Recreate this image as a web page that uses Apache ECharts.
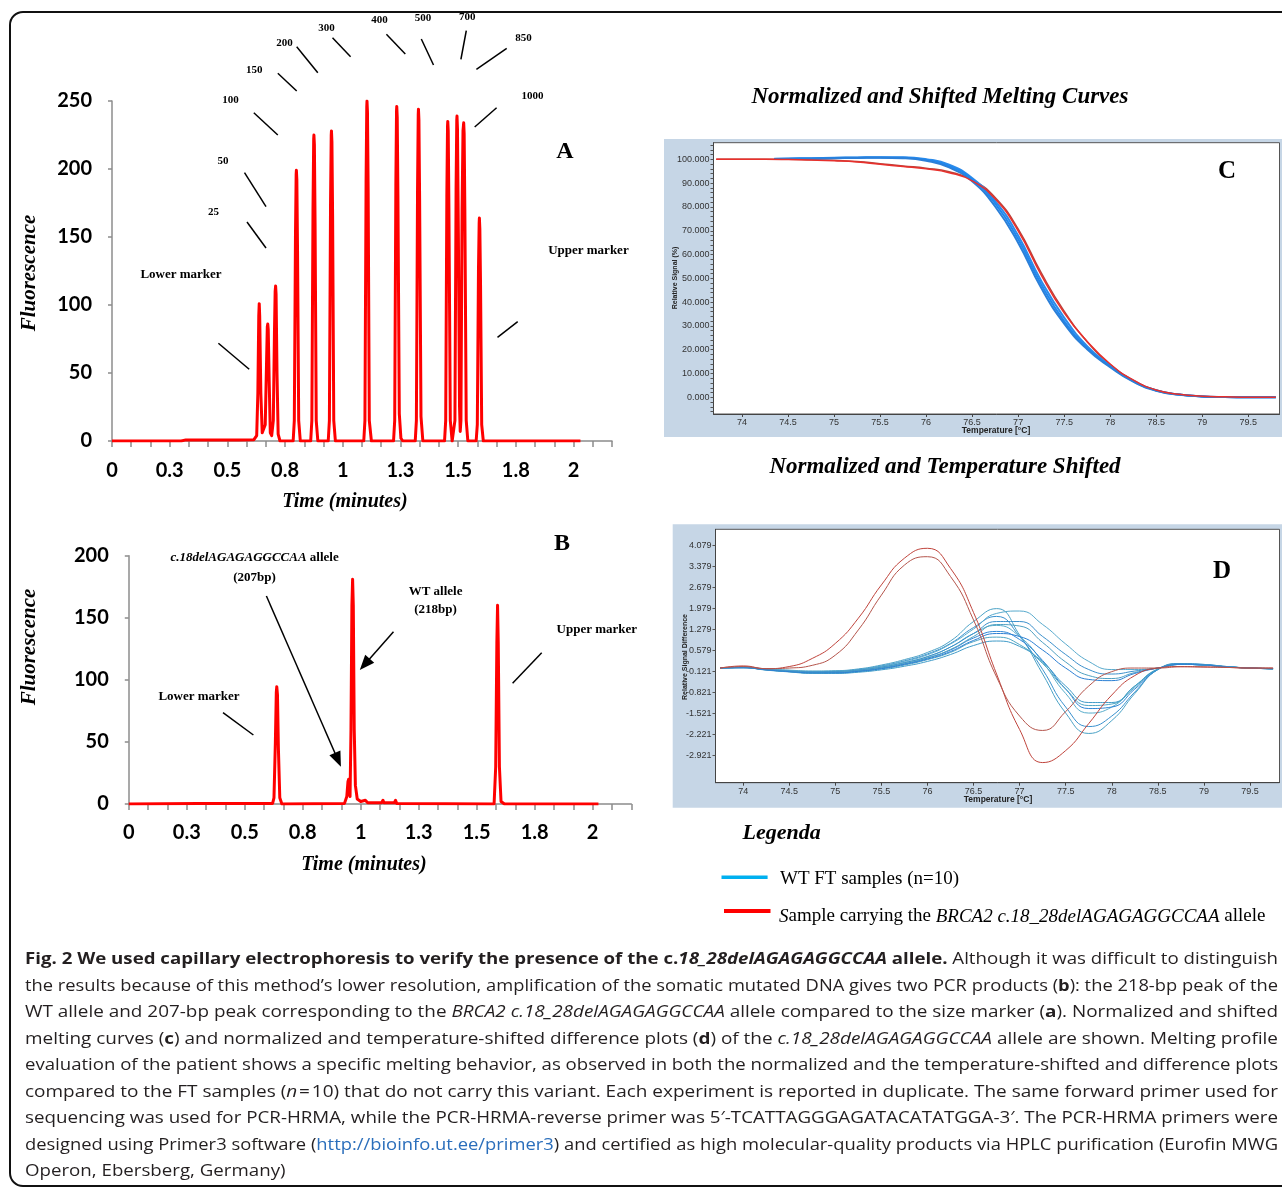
<!DOCTYPE html>
<html><head><meta charset="utf-8">
<script src="https://cdn.jsdelivr.net/npm/echarts@6/dist/echarts.min.js"></script>
<style>
html,body{margin:0;padding:0;background:#fff;width:1282px;height:1187px;overflow:hidden;}
#chart{position:absolute;left:0;top:0;width:1282px;height:1187px;}
#frame{position:absolute;left:9px;top:11px;width:1300px;height:1172px;border:2px solid #111;border-radius:14px;pointer-events:none;}
#caption{position:absolute;left:25px;top:945px;width:1253px;font-family:'Open Sans',sans-serif;font-size:16.5px;color:#231f20;}
.ln{white-space:nowrap;height:26.5px;line-height:26.5px;transform-origin:0 50%;width:max-content;}
.ln a{color:#2a6ebb;text-decoration:none;}
</style></head>
<body>
<div id="chart"></div>
<div id="frame"></div>
<div id="caption"></div>
<script>
// ---------------- DATA ----------------
const timeTickValues = [0,0.25,0.5,0.75,1,1.25,1.5,1.75,2];
const timeTickLabels = ['0','0.3','0.5','0.8','1','1.3','1.5','1.8','2'];
const fluorTicksA = [0,50,100,150,200,250];
const fluorTicksB = [0,50,100,150,200];
const tempTickValues = [74,74.5,75,75.5,76,76.5,77,77.5,78,78.5,79,79.5];
const tempTickLabels = ['74','74.5','75','75.5','76','76.5','77','77.5','78','78.5','79','79.5'];
const signalTickValues = [0,10,20,30,40,50,60,70,80,90,100];
const signalTickLabels = ['0.000','10.000','20.000','30.000','40.000','50.000','60.000','70.000','80.000','90.000','100.000'];
const diffTickValues = [-2.921,-2.221,-1.521,-0.821,-0.121,0.579,1.279,1.979,2.679,3.379,4.079];
const diffTickLabels = ['-2.921','-2.221','-1.521','-0.821','-0.121','0.579','1.279','1.979','2.679','3.379','4.079'];

// Panel A: size ladder electropherogram [time, fluorescence]
const traceA = [
[0,0],[0.30,0],[0.32,0.8],[0.55,0.8],[0.615,1],
[0.627,4],[0.632,35],[0.636,92],[0.638,101],[0.640,92],[0.645,35],[0.651,6],
[0.657,5],[0.664,12],[0.670,60],[0.673,84],[0.675,86],[0.677,82],[0.681,45],[0.686,6],
[0.692,4],[0.699,15],[0.704,80],[0.707,110],[0.709,114],[0.711,108],[0.715,50],[0.720,5],[0.728,0],
[0.785,0],[0.790,15],[0.795,150],[0.798,196],[0.799,199],[0.801,192],[0.804,140],[0.809,15],[0.816,0],
[0.861,0],[0.866,15],[0.871,170],[0.874,222],[0.875,225],[0.877,218],[0.880,160],[0.885,15],[0.892,0],
[0.937,0],[0.942,15],[0.947,175],[0.950,225],[0.951,228],[0.953,220],[0.956,165],[0.961,15],[0.968,0],
[1.091,0],[1.096,15],[1.101,190],[1.104,246],[1.105,250],[1.107,242],[1.110,185],[1.115,15],[1.124,0],
[1.220,0],[1.225,15],[1.230,188],[1.233,243],[1.234,246],[1.236,238],[1.239,180],[1.245,20],[1.252,2],[1.260,0],
[1.314,0],[1.319,15],[1.324,185],[1.327,240],[1.328,244],[1.330,236],[1.333,178],[1.339,18],[1.347,0],
[1.441,0],[1.446,15],[1.451,180],[1.454,232],[1.455,235],[1.457,228],[1.460,170],[1.466,15],[1.474,0],
[1.481,0],[1.486,15],[1.491,185],[1.494,236],[1.495,239],[1.497,230],[1.501,150],[1.506,25],[1.509,7],[1.512,15],[1.517,170],[1.521,228],[1.524,234],[1.526,226],[1.529,170],[1.535,15],[1.542,0],
[1.578,0],[1.583,12],[1.588,125],[1.591,160],[1.592,164],[1.594,156],[1.597,115],[1.602,12],[1.609,0],
[2.03,0]
];

// Panel B: patient sample electropherogram [time, fluorescence]
const traceB = [
[0,0],[0.30,0.5],[0.62,0.5],[0.626,5],[0.632,50],[0.636,90],[0.638,94.5],[0.641,88],[0.645,45],[0.651,5],[0.660,0],
[0.930,0.5],[0.940,6],[0.945,18],[0.948,20],[0.951,10],[0.954,6],[0.958,60],[0.962,160],[0.965,181],[0.968,160],[0.972,60],[0.977,15],[0.985,4],
[1.000,2],[1.020,3],[1.030,1],[1.090,1],[1.096,3],[1.100,1],[1.145,1],[1.150,3],[1.155,0.5],
[1.575,0],[1.582,30],[1.587,130],[1.590,160],[1.593,130],[1.598,30],[1.605,2],[1.620,0],[2.025,0]
];

// Panel C: normalized melting curves (relative signal %)
const tempRedC = [73.72,74,74.25,74.5,74.75,75,75.25,75.5,75.75,76,76.25,76.5,76.75,77,77.25,77.5,77.75,78,78.25,78.5,78.75,79,79.25,79.5,79.8];
const redC1 = [100,100,100,99.9,99.7,99.4,98.9,97.9,97.0,96.0,94.4,91.0,83.4,70.0,51.5,35.5,23.5,14.0,7.3,3.1,1.3,0.5,0.2,0.0,0.0];
const redC2 = [100,100,100,100,99.8,99.6,99.1,98.2,97.2,96.3,94.8,91.4,84.0,70.8,52.4,36.2,23.4,13.8,7.1,3.0,1.2,0.4,0.1,0.0,0.0];
const tempBlueC = [74.35,74.5,74.75,75,75.25,75.5,75.75,76,76.25,76.5,76.75,77,77.25,77.5,77.75,78,78.25,78.5,78.75,79,79.25,79.5,79.8];
const blueC1 = [100.2,100.3,100.4,100.6,100.7,100.8,100.7,99.8,97.2,91.6,81.5,66.5,47.5,32.0,20.8,13.0,6.8,2.9,1.2,0.4,0.1,0.0,0.0];
const blueC2 = [100.2,100.2,100.3,100.5,100.6,100.7,100.5,99.4,96.6,90.8,80.2,65.0,46.0,31.0,20.2,12.7,6.6,2.8,1.1,0.4,0.1,0.0,0.0];
const blueC3 = [100.3,100.4,100.5,100.7,100.8,100.9,100.9,100.1,97.8,92.2,82.6,68.0,49.0,33.5,21.5,13.4,7.0,3.0,1.2,0.4,0.1,0.0,0.0];

// Panel D: temperature-shifted difference plot
const tempD = [73.75,74,74.25,74.5,74.75,75,75.25,75.5,75.75,76,76.25,76.5,76.75,77,77.25,77.5,77.75,78,78.25,78.5,78.75,79,79.25,79.5,79.75];
const redD1 = [0,0.07,-0.02,0.05,0.32,0.82,1.66,2.77,3.66,3.99,3.32,1.85,-0.2,-2.05,-3.15,-2.75,-1.85,-0.9,-0.25,0.0,0.05,0.04,0.02,0.0,0.0];
const redD2 = [0,0.05,-0.02,0.0,0.09,0.43,1.27,2.43,3.43,3.71,3.05,1.6,-0.3,-1.6,-2.08,-1.45,-0.6,-0.12,0.0,0.0,0.04,0.03,0.02,0.0,0.0];
const blueD1 = [0,0.03,-0.03,-0.07,-0.1,-0.09,-0.03,0.1,0.28,0.52,0.9,1.55,1.98,1.1,-0.2,-1.5,-2.18,-1.75,-0.85,-0.05,0.15,0.12,0.05,0.0,-0.02];
const blueD2 = [0,0.02,-0.04,-0.09,-0.12,-0.11,-0.05,0.07,0.24,0.47,0.82,1.35,1.72,1.05,-0.05,-1.3,-1.95,-1.6,-0.8,-0.05,0.14,0.12,0.05,0.0,-0.03];
const blueD3 = [0,0.02,-0.05,-0.1,-0.14,-0.13,-0.08,0.03,0.18,0.38,0.7,1.15,1.42,1.05,0.2,-0.85,-1.5,-1.3,-0.65,-0.04,0.12,0.1,0.04,0.0,-0.02];
const blueD4 = [0,0.01,-0.06,-0.12,-0.16,-0.15,-0.1,0.0,0.14,0.33,0.6,1.0,1.22,0.95,0.25,-0.7,-1.35,-1.3,-0.7,-0.05,0.13,0.11,0.04,0.0,-0.03];
const blueD5 = [0,0.01,-0.07,-0.13,-0.18,-0.17,-0.12,-0.03,0.1,0.28,0.52,0.88,1.03,0.78,0.15,-0.7,-1.25,-1.2,-0.6,-0.03,0.12,0.1,0.04,0.0,-0.03];
const blueD6 = [0,0.02,-0.06,-0.12,-0.17,-0.18,-0.14,-0.06,0.06,0.22,0.45,0.75,0.9,0.72,0.2,-0.6,-1.15,-1.15,-0.6,-0.04,0.12,0.1,0.04,0.0,-0.02];
const blueD7 = [0,0.02,-0.04,-0.08,-0.11,-0.1,-0.05,0.06,0.22,0.44,0.8,1.3,1.82,1.9,1.45,0.8,0.22,-0.05,-0.05,0.0,0.12,0.1,0.04,0.0,-0.02];
const blueD8 = [0,0.02,-0.05,-0.1,-0.13,-0.12,-0.07,0.03,0.18,0.38,0.7,1.15,1.55,1.55,1.05,0.45,-0.05,-0.2,-0.1,0.0,0.12,0.1,0.04,0.0,-0.02];
const blueD9 = [0,0.01,-0.05,-0.11,-0.15,-0.14,-0.09,0.01,0.15,0.34,0.62,1.05,1.45,1.4,0.85,0.2,-0.25,-0.35,-0.15,0.0,0.12,0.1,0.04,0.0,-0.03];
const blueD10 = [0,0.01,-0.06,-0.12,-0.16,-0.16,-0.11,-0.02,0.12,0.3,0.55,0.92,1.15,1.05,0.6,0.0,-0.38,-0.42,-0.18,0.0,0.12,0.1,0.04,0.0,-0.02];

const peakLabelsA = ['25','50','100','150','200','300','400','500','700','850','1000'];

const captionLines = [
 '<b>Fig. 2 We used capillary electrophoresis to verify the presence of the c.<i>18_28delAGAGAGGCCAA</i> allele.</b> Although it was difficult to distinguish',
 'the results because of this method’s lower resolution, amplification of the somatic mutated DNA gives two PCR products (<b>b</b>): the 218-bp peak of the',
 'WT allele and 207-bp peak corresponding to the <i>BRCA2 c.18_28delAGAGAGGCCAA</i> allele compared to the size marker (<b>a</b>). Normalized and shifted',
 'melting curves (<b>c</b>) and normalized and temperature-shifted difference plots (<b>d</b>) of the <i>c.18_28delAGAGAGGCCAA</i> allele are shown. Melting profile',
 'evaluation of the patient shows a specific melting behavior, as observed in both the normalized and the temperature-shifted and difference plots',
 'compared to the FT samples (<i>n</i>&#8202;=&#8202;10) that do not carry this variant. Each experiment is reported in duplicate. The same forward primer used for',
 'sequencing was used for PCR-HRMA, while the PCR-HRMA-reverse primer was 5′-TCATTAGGGAGATACATATGGA-3′. The PCR-HRMA primers were',
 'designed using Primer3 software (<a>http://bioinfo.ut.ee/primer3</a>) and certified as high molecular-quality products via HPLC purification (Eurofin MWG',
 'Operon, Ebersberg, Germany)'
];

// ---------------- BUILD ----------------
const zip = (xs, ys) => xs.map((x, i) => [x, ys[i]]);
const minorTimeTicks = Array.from({length: 27}, (_, i) => i / 12);
const signalMinorTicks = Array.from({length: 57}, (_, i) => -6 + i * 2);

const SERIF = '"Liberation Serif","Times New Roman",serif';
const SANS = '"Liberation Sans",Arial,sans-serif';
const NUMF = 'Lato,"Open Sans",sans-serif';

function txt(x, y, text, o) {
  o = o || {};
  return {type: 'text', x: x, y: y, rotation: o.rotation || 0, z: 20,
    style: {text: text, fill: o.color || '#000', fontSize: o.size || 12, fontWeight: o.weight || 'bold',
      fontStyle: o.style || 'normal', fontFamily: o.family || SERIF,
      align: o.align || 'center', textAlign: o.align || 'center',
      verticalAlign: 'middle', textVerticalAlign: 'middle', rich: o.rich}};
}
function seg(x1, y1, x2, y2, w, c) {
  return {type: 'line', z: 20, shape: {x1, y1, x2, y2}, style: {stroke: c || '#000', lineWidth: w || 1.5}};
}
function arrow(x1, y1, x2, y2) {
  const dx = x2 - x1, dy = y2 - y1, L = Math.hypot(dx, dy), ux = dx / L, uy = dy / L;
  const hl = 15, hw = 6;
  const bx = x2 - ux * hl, by = y2 - uy * hl;
  return [
    seg(x1, y1, bx + ux * 2, by + uy * 2, 1.5),
    {type: 'polygon', z: 20, shape: {points: [[x2, y2], [bx - uy * hw, by + ux * hw], [bx + uy * hw, by - ux * hw]]}, style: {fill: '#000'}}
  ];
}

const grayAxis = {show: true, onZero: false, lineStyle: {color: '#8c8c8c', width: 1.5}};
const bigNum = {fontSize: 20, fontWeight: 'bold', fontFamily: NUMF, color: '#000'};

const timeAxis = (gi, margin) => ({
  type: 'value', gridIndex: gi, min: 0, max: 26 / 12,
  axisLine: grayAxis,
  axisTick: {show: true, length: 6, customValues: minorTimeTicks, lineStyle: {color: '#8c8c8c', width: 1.5}},
  axisLabel: Object.assign({customValues: timeTickValues, margin: margin,
    formatter: v => timeTickLabels[Math.round(v * 4)]}, bigNum),
  splitLine: {show: false}
});
const fluorAxis = (gi, max, ticks) => ({
  type: 'value', gridIndex: gi, min: 0, max: max,
  axisLine: grayAxis,
  axisTick: {show: true, length: 4, customValues: ticks, lineStyle: {color: '#8c8c8c', width: 1.5}},
  axisLabel: Object.assign({customValues: ticks, margin: 20}, bigNum),
  splitLine: {show: false}
});
const smallLab = {fontSize: 9, fontFamily: SANS, color: '#333'};
const tempAxis = (gi, min, max) => ({
  type: 'value', gridIndex: gi, min: min, max: max,
  axisLine: {show: true, onZero: false, lineStyle: {color: '#444', width: 1}},
  axisTick: {show: true, length: 3, customValues: tempTickValues, lineStyle: {color: '#444'}},
  axisLabel: Object.assign({customValues: tempTickValues, margin: 4,
    formatter: v => tempTickLabels[Math.round((v - 74) * 2)]}, smallLab),
  splitLine: {show: false}
});

const lineS = (xi, data, color, width, smooth, name) => ({
  type: 'line', name: name, xAxisIndex: xi, yAxisIndex: xi, data: data, showSymbol: false, symbol: 'none',
  smooth: smooth, animation: false, silent: true,
  lineStyle: {color: color, width: width, join: 'round'}
});

const blueDs = [blueD1, blueD2, blueD3, blueD4, blueD5, blueD6, blueD7, blueD8, blueD9, blueD10];
const blueDColors = ['#4aa2c6', '#3a92cf', '#5aaecc', '#2f86d6', '#4fa6c4', '#3f9bc8', '#58aacd', '#3b90cc', '#4ea0c2', '#2c80d4'];

const series = [
  lineS(0, traceA, '#ff0000', 3, false, 'A'),
  lineS(1, traceB, '#ff0000', 3, false, 'B'),
  lineS(2, zip(tempRedC, redC2), '#b8453d', 1.5, true, 'redC2'),
  lineS(2, zip(tempBlueC, blueC3), '#2f8be8', 2, true, 'blueC3'),
  lineS(2, zip(tempBlueC, blueC1), '#1e88f0', 2, true, 'blueC1'),
  lineS(2, zip(tempBlueC, blueC2), '#2b7fd8', 2, true, 'blueC2'),
  lineS(2, zip(tempRedC, redC1), '#e8302c', 1.5, true, 'redC1')
];
blueDs.forEach((b, i) => series.push(lineS(3, zip(tempD, b), blueDColors[i], 1, true, 'blueD' + (i + 1))));
series.push(lineS(3, zip(tempD, redD1), '#c0443c', 1, true, 'redD1'));
series.push(lineS(3, zip(tempD, redD2), '#b5554c', 1, true, 'redD2'));

const graphics = [
  // panel C / D backgrounds
  {type: 'rect', z: 0, shape: {x: 664, y: 139, width: 620, height: 298}, style: {fill: '#c6d6e6'}},
  {type: 'rect', z: 0, shape: {x: 713.5, y: 142.7, width: 566, height: 271.3}, style: {fill: '#fff', stroke: '#555', lineWidth: 1}},
  {type: 'rect', z: 0, shape: {x: 672.7, y: 524.3, width: 612, height: 283.4}, style: {fill: '#c6d6e6'}},
  {type: 'rect', z: 0, shape: {x: 715.5, y: 529.3, width: 564, height: 253.4}, style: {fill: '#fff', stroke: '#555', lineWidth: 1}},

  // panel A texts
  txt(565, 152, 'A', {size: 24}),
  txt(30, 273, 'Fluorescence', {size: 21, style: 'italic', rotation: Math.PI / 2}),
  txt(345, 502, 'Time (minutes)', {size: 20, style: 'italic'}),
  txt(213.4, 212.3, peakLabelsA[0], {size: 11}),
  txt(223, 161.3, peakLabelsA[1], {size: 11}),
  txt(230.6, 100, peakLabelsA[2], {size: 11}),
  txt(254.2, 70, peakLabelsA[3], {size: 11}),
  txt(284.5, 43.3, peakLabelsA[4], {size: 11}),
  txt(326.6, 28.3, peakLabelsA[5], {size: 11}),
  txt(379.6, 20, peakLabelsA[6], {size: 11}),
  txt(423, 18.3, peakLabelsA[7], {size: 11}),
  txt(467.2, 17.3, peakLabelsA[8], {size: 11}),
  txt(523.6, 38.3, peakLabelsA[9], {size: 11}),
  txt(532.4, 96.3, peakLabelsA[10], {size: 11}),
  txt(181, 274.3, 'Lower marker', {size: 13}),
  txt(588.4, 250.7, 'Upper marker', {size: 13}),
  seg(247, 222, 266, 248), seg(244.5, 172.7, 266, 206.7), seg(253.8, 112.7, 277.8, 135),
  seg(277.8, 73.3, 296.7, 91), seg(296.7, 46.7, 317.8, 72.7), seg(332.5, 37.7, 350.6, 56.7),
  seg(386.4, 34.3, 405.3, 54), seg(421.3, 39, 433.5, 65), seg(466.3, 30.7, 460.9, 59.3),
  seg(506.7, 48.3, 476.4, 69.3), seg(496.6, 107.7, 474.7, 127),
  seg(218.4, 343.3, 249.2, 369.3), seg(517.7, 321.7, 497.5, 337.3),

  // panel B texts
  txt(562, 544, 'B', {size: 24}),
  txt(30, 647, 'Fluorescence', {size: 21, style: 'italic', rotation: Math.PI / 2}),
  txt(364, 865, 'Time (minutes)', {size: 20, style: 'italic'}),
  txt(254.6, 557.7, '{i|c.18delAGAGAGGCCAA}{b| allele}', {size: 13,
    rich: {i: {fontSize: 13, fontWeight: 'bold', fontStyle: 'italic', fontFamily: SERIF, fill: '#000'},
           b: {fontSize: 13, fontWeight: 'bold', fontFamily: SERIF, fill: '#000'}}}),
  txt(254.6, 577.3, '(207bp)', {size: 13}),
  txt(435.6, 591.7, 'WT allele', {size: 13}),
  txt(435.6, 609.3, '(218bp)', {size: 13}),
  txt(199, 696.7, 'Lower marker', {size: 13}),
  txt(596.8, 630, 'Upper marker', {size: 13}),
  seg(223, 712.7, 253.4, 735), seg(541.7, 652.7, 512.6, 683.3),
  ...arrow(266.4, 596, 340.9, 766.7),
  ...arrow(393.5, 631.7, 359.8, 670),

  // titles
  txt(940, 97, 'Normalized and Shifted Melting Curves', {size: 23, style: 'italic'}),
  txt(945, 467, 'Normalized and Temperature Shifted', {size: 23, style: 'italic'}),
  txt(1227, 172, 'C', {size: 25}),
  txt(1222, 572, 'D', {size: 25}),
  txt(675, 278, 'Relative Signal (%)', {size: 7, family: SANS, rotation: Math.PI / 2, color: '#222'}),
  txt(996, 431, 'Temperature [°C]', {size: 8.5, family: SANS, color: '#222'}),
  txt(684.6, 657, 'Relative Signal Difference', {size: 7, family: SANS, rotation: Math.PI / 2, color: '#222'}),
  txt(998, 799.5, 'Temperature [°C]', {size: 8.5, family: SANS, color: '#222'}),

  // legend
  txt(781.7, 833, 'Legenda', {size: 22, style: 'italic'}),
  seg(721.5, 877.3, 767.6, 877.3, 3.5, '#00b0f0'),
  seg(724, 911, 770.5, 911, 4, '#ff0000'),
  txt(780, 879, 'WT FT samples (n=10)', {size: 19, weight: 'normal', align: 'left'}),
  txt(779, 916.5, '{i|S}{n|ample carrying the }{i|BRCA2 c.18_28delAGAGAGGCCAA}{n| allele}', {size: 19, weight: 'normal', align: 'left',
    rich: {i: {fontSize: 19, fontStyle: 'italic', fontFamily: SERIF, fill: '#000'},
           n: {fontSize: 19, fontFamily: SERIF, fill: '#000'}}})
];

const option = {
  animation: false,
  backgroundColor: 'transparent',
  grid: [
    {left: 112, top: 101, width: 500, height: 340},
    {left: 128.8, top: 555.7, width: 502.5, height: 248.3},
    {left: 713.5, top: 142.7, width: 566, height: 271.3},
    {left: 715.5, top: 529.3, width: 564, height: 253.4}
  ],
  xAxis: [
    timeAxis(0, 20),
    timeAxis(1, 19),
    tempAxis(2, 73.69, 79.84),
    tempAxis(3, 73.70, 79.82)
  ],
  yAxis: [
    fluorAxis(0, 250, fluorTicksA),
    fluorAxis(1, 200, fluorTicksB),
    {type: 'value', gridIndex: 2, min: -7, max: 107,
      axisLine: {show: true, onZero: false, lineStyle: {color: '#444', width: 1}},
      axisTick: {show: true, length: 3, customValues: signalMinorTicks, lineStyle: {color: '#555'}},
      axisLabel: Object.assign({customValues: signalTickValues, margin: 4,
        formatter: v => signalTickLabels[Math.round(v / 10)]}, smallLab),
      splitLine: {show: false}},
    {type: 'value', gridIndex: 3, min: -3.821, max: 4.623,
      axisLine: {show: true, onZero: false, lineStyle: {color: '#444', width: 1}},
      axisTick: {show: true, length: 3, customValues: diffTickValues, lineStyle: {color: '#555'}},
      axisLabel: Object.assign({customValues: diffTickValues, margin: 4,
        formatter: v => diffTickLabels[Math.round((v + 2.921) / 0.7)]}, smallLab),
      splitLine: {show: false}}
  ],
  graphic: {elements: graphics},
  series: series
};

const chart = echarts.init(document.getElementById('chart'), null, {renderer: 'canvas'});
chart.setOption(option);

// caption
const cap = document.getElementById('caption');
captionLines.forEach(h => { const d = document.createElement('div'); d.className = 'ln'; d.innerHTML = h; cap.appendChild(d); });
function fitCaption() {
  const els = Array.from(cap.querySelectorAll('.ln'));
  const scales = [];
  els.forEach((el, i) => {
    el.style.transform = 'none';
    const w = el.getBoundingClientRect().width;
    if (i < els.length - 1) { const s = 1253 / w; scales.push(s); el.style.transform = 'scaleX(' + s + ')'; }
  });
  const avg = scales.reduce((a, b) => a + b, 0) / scales.length;
  els[els.length - 1].style.transform = 'scaleX(' + avg + ')';
}
fitCaption();
if (document.fonts && document.fonts.ready) document.fonts.ready.then(fitCaption);
</script>
</body></html>
